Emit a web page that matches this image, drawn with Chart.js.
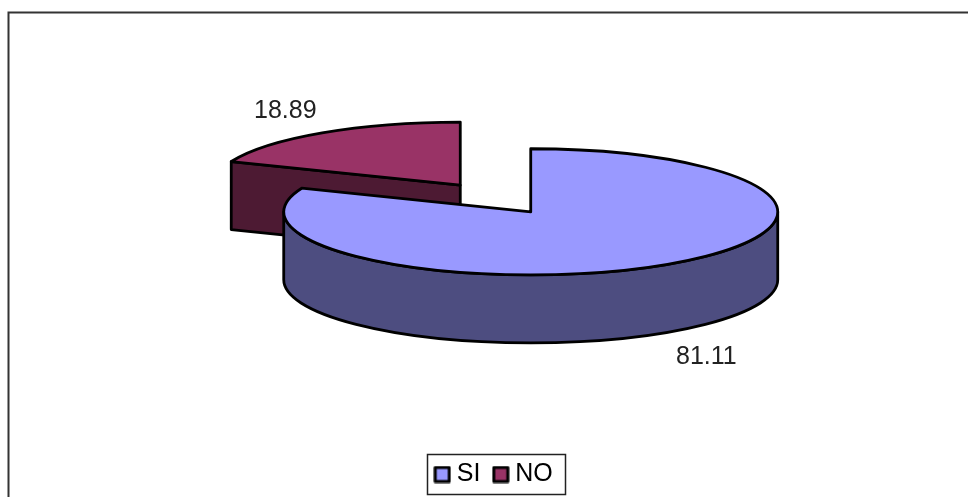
<!DOCTYPE html>
<html><head><meta charset="utf-8">
<style>html,body{margin:0;padding:0;background:#fff}#w{position:absolute;left:0;top:0;width:968px;height:497px}</style>
<script src="https://cdn.jsdelivr.net/npm/chart.js@4"></script></head>
<body><div id="w"><canvas id="c" width="968" height="497"></canvas></div>
<script>
const categories = ['SI', 'NO'];
const seriesValues = [81.11, 18.89];
const valueLabels = ['81.11', '18.89'];
const topColors = ['#9999ff', '#993366'];
const wallColors = ['#4d4d80', '#4d1a33'];

const FAMILY = '"Liberation Sans", Arial, sans-serif';
const TILT = 0.2553, DEPTH = 68, EXPLODE = 63, CX = 495.5, CY = 198.5, LINE = 2.8;

function swatch(color) {
  const s = document.createElement('canvas');
  s.width = 18; s.height = 18;
  const g = s.getContext('2d');
  g.fillStyle = color; g.strokeStyle = '#000'; g.lineWidth = 3; g.lineJoin = 'round';
  g.beginPath(); g.rect(2, 2, 14, 14); g.fill(); g.stroke();
  return s;
}

const pie3d = {
  id: 'pie3d',
  beforeDatasetsDraw(chart) {
    const ctx = chart.ctx, arcs = chart.getDatasetMeta(0).data;
    [1, 0].forEach(i => {
      const el = arcs[i];
      const mid = (el.startAngle + el.endAngle) / 2;
      const ox = CX + Math.cos(mid) * EXPLODE, oy = CY + Math.sin(mid) * EXPLODE * TILT;
      const R = el.outerRadius, ry = R * TILT;
      const px = a => ox + Math.cos(a) * R, py = a => oy + Math.sin(a) * ry;
      const layer = (dy, color) => {
        ctx.save();
        ctx.translate(ox, oy + dy);
        ctx.scale(1, TILT);
        ctx.translate(-el.x, -el.y);
        const keep = el.options.backgroundColor;
        el.options.backgroundColor = color;
        el.draw(ctx);
        el.options.backgroundColor = keep;
        ctx.restore();
      };
      layer(DEPTH, wallColors[i]);

      ctx.save();
      ctx.strokeStyle = '#000'; ctx.lineWidth = LINE; ctx.lineJoin = 'round';
      ctx.fillStyle = wallColors[i];
      ctx.beginPath();
      if (i === 1) {
        const a = el.startAngle;
        ctx.moveTo(px(a), py(a)); ctx.lineTo(px(a), py(a) + DEPTH);
        ctx.lineTo(ox, oy + DEPTH); ctx.lineTo(ox, oy);
      } else {
        ctx.moveTo(ox + R, oy); ctx.lineTo(ox + R, oy + DEPTH);
        ctx.ellipse(ox, oy + DEPTH, R, ry, 0, 0, Math.PI);
        ctx.lineTo(ox - R, oy);
        ctx.ellipse(ox, oy, R, ry, 0, Math.PI, 0, true);
      }
      ctx.closePath();
      ctx.fill();
      ctx.stroke();
      ctx.restore();

      layer(0, topColors[i]);

      ctx.save();
      ctx.strokeStyle = '#000'; ctx.lineWidth = LINE; ctx.lineJoin = 'round';
      ctx.beginPath();
      ctx.moveTo(ox, oy);
      ctx.ellipse(ox, oy, R, ry, 0, el.startAngle, el.endAngle);
      ctx.closePath();
      ctx.stroke();
      ctx.restore();
    });
    return false;
  },
  afterDraw(chart) {
    const ctx = chart.ctx;
    ctx.save();
    ctx.strokeStyle = '#333'; ctx.lineWidth = 2;
    ctx.beginPath(); ctx.moveTo(8.5, 497); ctx.lineTo(8.5, 12.5); ctx.lineTo(968, 12.5); ctx.stroke();
    ctx.fillStyle = '#222'; ctx.font = '25px ' + FAMILY; ctx.textBaseline = 'alphabetic'; ctx.textAlign = 'left';
    ctx.fillText(valueLabels[0], 676, 364);
    ctx.fillText(valueLabels[1], 254, 118);
    ctx.strokeStyle = '#222'; ctx.lineWidth = 1.5;
    ctx.strokeRect(427.5, 454.5, 138, 40);
    ctx.restore();
  }
};

new Chart(document.getElementById('c'), {
  type: 'pie',
  data: { labels: categories, datasets: [{ data: seriesValues, backgroundColor: topColors, borderWidth: 0 }] },
  options: {
    responsive: false, animation: false, radius: 247,
    layout: { padding: { left: 25 } },
    plugins: {
      tooltip: { enabled: false },
      legend: {
        position: 'bottom',
        labels: { font: { size: 25, family: FAMILY }, color: '#111',
          usePointStyle: true, boxWidth: 4, boxHeight: 18, padding: 18.4,
          generateLabels: () => categories.map((t, i) => ({ text: t, pointStyle: swatch(topColors[i]), index: i })) }
      }
    }
  },
  plugins: [pie3d]
});
</script></body></html>
